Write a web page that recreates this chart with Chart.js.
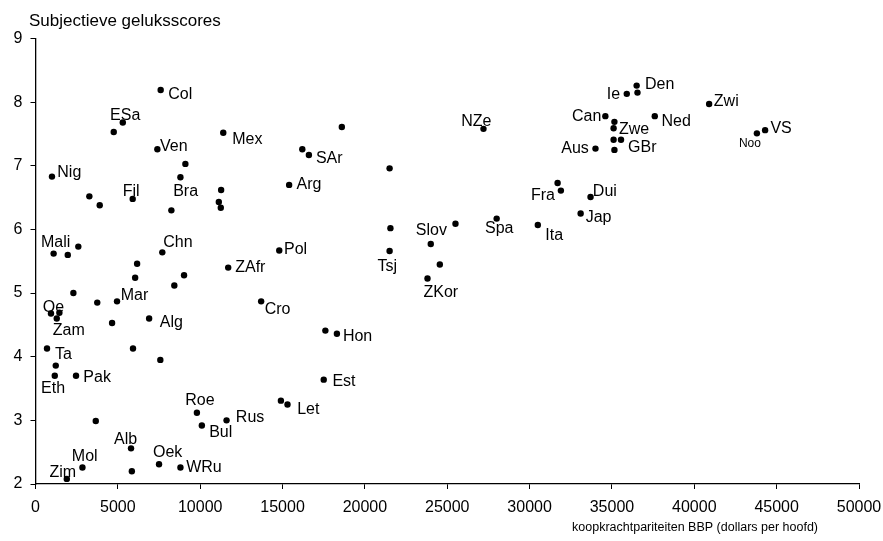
<!DOCTYPE html>
<html>
<head>
<meta charset="utf-8">
<script src="https://cdn.jsdelivr.net/npm/chart.js@4/dist/chart.umd.min.js"></script>
<style>
  html, body { margin: 0; padding: 0; background: #fff; }
  #wrap { width: 883px; height: 541px; position: relative; }
</style>
</head>
<body>
<div id="wrap"><canvas id="c"></canvas></div>
<script>
// data; '' = point without a label
var countries = [
    'Col', 'ESa', 'Ven', 'Mex', 'Nig', 'Fil', 'Bra', 'Arg', 'SAr', 'Mali',
    'Chn', 'Pol', 'ZAfr', 'Mar', 'Oe', 'Zam', 'Alg', 'Cro', 'Ta', 'Eth',
    'Pak', 'Roe', 'Bul', 'Rus', 'Let', 'Est', 'Hon', 'Alb', 'Oek', 'WRu',
    'Mol', 'Zim', 'Tsj', 'Slov', 'Spa', 'Ita', 'ZKor', 'NZe', 'Fra', 'Dui',
    'Jap', 'Aus', 'Can', 'Den', 'Ie', 'Zwi', 'Zwe', 'Ned', 'GBr', 'VS',
    'Noo',
    '', '', '', '', '', '', '', '', '', '',
    '', '', '', '', '', '', '', '', '', '',
    '', '', '', '', '', '', '', '', '', '',
    '', '', '', '', '', ''
];
var gdp = [
    7600, 5300, 7400, 11400, 1000, 5900, 8800, 15400, 16600, 1100,
    7700, 14800, 11700, 4950, 940, 1290, 6900, 13700, 700, 1170,
    2460, 9800, 10100, 11600, 15300, 17500, 18300, 5800, 7500, 8800,
    2850, 1900, 21500, 24000, 28000, 30500, 23800, 27200, 31900, 33700,
    33100, 34000, 34600, 36500, 35900, 40900, 35100, 37600, 35550, 44300,
    43800,
    4750, 9100, 3270, 3900, 11270, 11130, 11250, 8250, 1960, 2600,
    6170, 6050, 9020, 8430, 2300, 3750, 1450, 4650, 5920, 7580,
    1230, 3660, 14900, 5850, 18600, 16200, 21500, 21550, 17600, 25500,
    24550, 31700, 36550, 35150, 35100, 35150
];
var happiness = [
    8.19, 7.68, 7.26, 7.52, 6.83, 6.48, 6.82, 6.70, 7.17, 5.62,
    5.64, 5.67, 5.40, 4.87, 4.68, 4.60, 4.60, 4.87, 4.13, 3.70,
    3.70, 3.12, 2.92, 3.00, 3.25, 3.64, 4.36, 2.56, 2.31, 2.26,
    2.26, 2.08, 5.66, 5.77, 6.17, 6.07, 5.23, 7.58, 6.61, 6.51,
    6.25, 7.27, 7.78, 8.26, 8.13, 7.97, 7.59, 7.78, 7.41, 7.56,
    7.51,
    7.53, 7.03, 6.52, 6.38, 6.62, 6.43, 6.34, 6.30, 5.60, 5.73,
    5.46, 5.24, 5.28, 5.12, 5.00, 4.85, 4.69, 4.53, 4.13, 3.95,
    3.86, 2.99, 3.31, 2.20, 7.61, 7.26, 6.96, 6.02, 4.41, 6.09,
    5.45, 6.73, 8.15, 7.69, 7.41, 7.25
];
var xTicks = [0, 5000, 10000, 15000, 20000, 25000, 30000, 35000, 40000, 45000, 50000];
var yTicks = [2, 3, 4, 5, 6, 7, 8, 9];
var yTitle = 'Subjectieve geluksscores';
var xTitle = 'koopkrachtpariteiten BBP (dollars per hoofd)';

var FONT = '"Liberation Sans", Arial, sans-serif';

// where each label sits relative to its dot: [dx, baseline dy, align, size]
var labelPlace = {
    Col: [7.5, 9], ESa: [-12.7, -2.3], Ven: [2.7, 2], Mex: [9, 11.6],
    Nig: [5.3, 0], Fil: [-10, -3.3], Bra: [-7.3, 18.3], Arg: [7.4, 4],
    SAr: [7, 7.7], Mali: [-12.6, -7], Chn: [1, -5.6], Pol: [4.7, 3.3],
    ZAfr: [7, 4.7], Mar: [3.7, -1], Oe: [-8.3, -1.6], Zam: [-4, 16.7],
    Alg: [10.6, 8.4], Cro: [3.6, 13], Ta: [8, 10.6], Eth: [-13.7, 17],
    Pak: [7.3, 6], Roe: [-11.7, -7.7], Bul: [7.3, 11.6], Rus: [9.3, 1.6],
    Let: [9.7, 10], Est: [8.7, 6.3], Hon: [6, 7.6], Alb: [-17, -4.4],
    Oek: [-6, -7], WRu: [5.7, 4.4], Mol: [-10.6, -6], Zim: [-17.4, -2.3],
    Tsj: [-12, 19.7], Slov: [-15, -9], Spa: [-11.7, 14.7], Ita: [7.4, 14.7],
    ZKor: [-4, 19], NZe: [-22.3, -3], Fra: [-6, 9, 'right'], Dui: [2.3, -1.3],
    Jap: [5, 8.3], Aus: [-6.7, 4.3, 'right'], Can: [-4, 4.7, 'right'],
    Den: [8.3, 3.3], Ie: [-6.7, 5.3, 'right'], Zwi: [4.7, 1.7], Zwe: [5.3, 5.3],
    Ned: [6.7, 10], GBr: [7, 12.7], VS: [5.3, 3], Noo: [-18, 13.6, 'left', 12]
};

var points = gdp.map(function (x, i) { return { x: x, y: happiness[i] }; });

var textPlugin = {
    id: 'texts',
    afterDatasetsDraw: function (chart) {
        var ctx = chart.ctx;
        var area = chart.chartArea;
        var meta = chart.getDatasetMeta(0);
        ctx.save();
        ctx.fillStyle = '#000';
        ctx.textBaseline = 'alphabetic';
        meta.data.forEach(function (pt, i) {
            var name = countries[i];
            if (!name) return;
            var p = labelPlace[name] || [6, 5];
            ctx.font = (p[3] || 16) + 'px ' + FONT;
            ctx.textAlign = p[2] || 'left';
            ctx.fillText(name, pt.x + p[0], pt.y + p[1]);
        });
        ctx.font = '17px ' + FONT;
        ctx.textAlign = 'left';
        ctx.fillText(yTitle, area.left - 6.5, area.top - 12.5);
        ctx.font = '12.5px ' + FONT;
        ctx.textAlign = 'right';
        ctx.fillText(xTitle, area.right - 41, area.bottom + 47);
        ctx.restore();
    }
};

new Chart(document.getElementById('c').getContext('2d'), {
    type: 'scatter',
    data: {
        datasets: [{
            data: points,
            backgroundColor: '#000',
            borderColor: '#000',
            pointRadius: 3.2,
            pointBorderWidth: 0
        }]
    },
    options: {
        responsive: true,
        maintainAspectRatio: false,
        animation: false,
        layout: { padding: { top: 38.5, right: 24, bottom: 0, left: 0 } },
        plugins: { legend: { display: false }, tooltip: { enabled: false } },
        scales: {
            x: {
                type: 'linear',
                min: 0,
                max: 50000,
                afterFit: function (s) { s.height = 57; s.paddingLeft = 0; s.paddingRight = 0; },
                afterBuildTicks: function (s) { s.ticks = xTicks.map(function (v) { return { value: v }; }); },
                grid: { display: true, drawOnChartArea: false, drawTicks: true, tickLength: 5, color: '#000', lineWidth: 1 },
                border: { display: true, color: '#000', width: 1.3 },
                ticks: {
                    autoSkip: false, maxRotation: 0, padding: 9, color: '#000',
                    font: { family: FONT, size: 16 },
                    callback: function (v) { return String(v); }
                }
            },
            y: {
                type: 'linear',
                min: 2,
                max: 9,
                afterFit: function (s) { s.width = 35.5; s.paddingTop = 0; s.paddingBottom = 0; },
                afterBuildTicks: function (s) { s.ticks = yTicks.map(function (v) { return { value: v }; }); },
                grid: { display: true, drawOnChartArea: false, drawTicks: true, tickLength: 5, color: '#000', lineWidth: 1 },
                border: { display: true, color: '#000', width: 1.3 },
                ticks: {
                    autoSkip: false, padding: 8, color: '#000',
                    font: { family: FONT, size: 16 },
                    callback: function (v) { return String(v); }
                }
            }
        }
    },
    plugins: [textPlugin]
});
</script>
</body>
</html>
